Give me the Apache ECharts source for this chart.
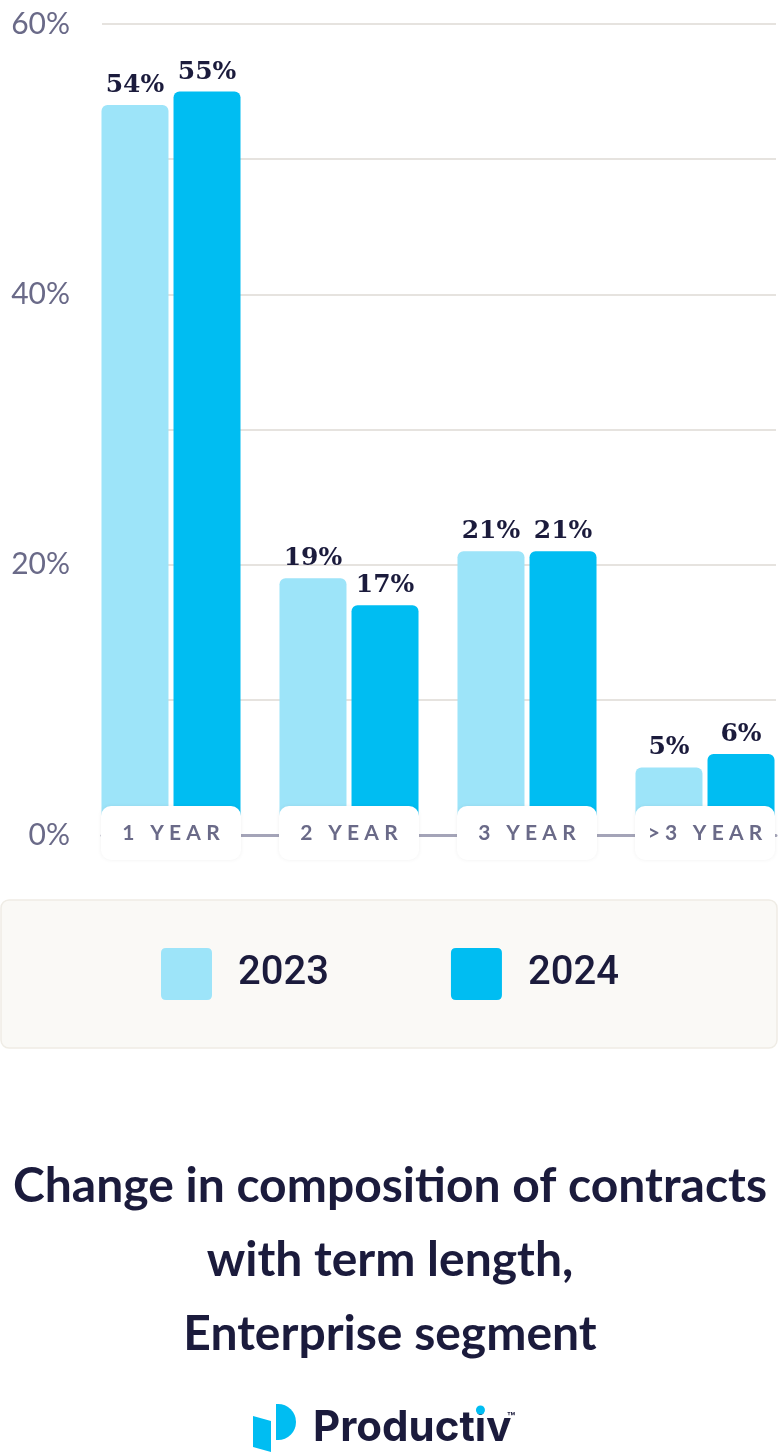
<!DOCTYPE html>
<html>
<head>
<meta charset="utf-8">
<script src="https://cdn.jsdelivr.net/npm/echarts@6/dist/echarts.min.js"></script>
<style>
html,body{margin:0;padding:0;background:#fff;}
#c{width:780px;height:1452px;}
</style>
</head>
<body>
<div id="c"></div>
<script>
const categories = ['1 YEAR', '2 YEAR', '3 YEAR', '>3 YEAR'];
const seriesNames = ['2023', '2024'];
const values2023 = [54, 19, 21, 5];
const values2024 = [55, 17, 21, 6];
const yTicks = [0, 20, 40, 60];
const titleLines = ['Change in composition of contracts', 'with term length,', 'Enterprise segment'];

const NAVY = '#1b1b3c';
const LIGHT = '#9de4f9';
const DARK = '#00bdf2';
const AXIS_GRAY = '#6a6a88';

const chart = echarts.init(document.getElementById('c'), null, {renderer: 'canvas'});

function spaced(s) { return s.split('').join('\u2005'); }

// position of the dot over the "i" in the logo word
const logoX = 313, logoFont = 'bold 42px Inter';
const mctx = document.createElement('canvas').getContext('2d');
mctx.font = logoFont;
const dotX = logoX + mctx.measureText('Product').width + mctx.measureText('i').width / 2;

const valueLabel = {
  show: true, position: 'top', distance: 7,
  formatter: p => p.value + '%',
  fontFamily: 'DejaVu Serif', fontWeight: 'bold', fontSize: 25, color: NAVY
};

chart.setOption({
  backgroundColor: '#ffffff',
  animation: false,
  title: {
    text: titleLines.join('\n'),
    left: 'center', top: 1145,
    textStyle: {fontFamily: 'Lato', fontWeight: 'bold', fontSize: 48, lineHeight: 74, color: NAVY, align: 'center'}
  },
  legend: {
    data: seriesNames,
    left: 161, top: 948, padding: 0,
    itemWidth: 51, itemHeight: 52, itemGap: 122,
    icon: 'path://M5,0 H46 Q51,0 51,5 V47 Q51,52 46,52 H5 Q0,52 0,47 V5 Q0,0 5,0 Z',
    textStyle: {fontFamily: 'Roboto', fontWeight: 500, fontSize: 40, color: NAVY, padding: [8, 0, 0, 21]}
  },
  grid: [
    {left: 82, width: 712, top: 24, height: 811, outerBoundsMode: 'none', containLabel: false},
    {left: 102, width: 674, top: 24, height: 811, outerBoundsMode: 'none', containLabel: false}
  ],
  xAxis: [
    {
      type: 'category', data: categories, gridIndex: 0, z: 5,
      axisTick: {show: false},
      axisLine: {show: false},
      axisLabel: {
        formatter: v => spaced(v),
        margin: -2, verticalAlign: 'middle',
        fontFamily: 'Lato', fontWeight: 'bold', fontSize: 21, color: AXIS_GRAY,
        backgroundColor: '#ffffff', width: 140, height: 49, lineHeight: 49,
        padding: [5, 0, 0, 0],
        borderRadius: 10, align: 'center',
        shadowColor: 'rgba(0,0,0,0.06)', shadowBlur: 4
      }
    },
    {type: 'category', data: categories, gridIndex: 1, z: 4,
     axisTick: {show: false}, axisLabel: {show: false},
     axisLine: {show: true, lineStyle: {color: '#a4a4b8', width: 3}}}
  ],
  yAxis: [
    {
      type: 'value', gridIndex: 0, min: 0, max: 60, interval: 20,
      splitLine: {show: false}, axisLine: {show: false}, axisTick: {show: false},
      axisLabel: {formatter: '{value}%', margin: 12, fontFamily: 'Lato', fontWeight: 'normal', fontSize: 30, color: AXIS_GRAY}
    },
    {
      type: 'value', gridIndex: 1, min: 0, max: 60, interval: 10,
      axisLabel: {show: false}, axisLine: {show: false}, axisTick: {show: false},
      splitLine: {show: true, lineStyle: {color: '#dedad5', width: 1.5}}
    }
  ],
  graphic: [
    {type: 'rect', z: -10, shape: {x: 1, y: 900, width: 776, height: 148, r: 8},
     style: {fill: '#faf9f6', stroke: '#efece5', lineWidth: 1.5}},
    {type: 'polygon', shape: {points: [[253, 1416], [271, 1421], [271, 1452], [253, 1447]]}, style: {fill: DARK}},
    {type: 'sector', shape: {cx: 278, cy: 1422, r0: 0, r: 18, startAngle: -Math.PI / 2, endAngle: Math.PI / 2}, style: {fill: DARK}},
    {type: 'rect', shape: {x: 276, y: 1404, width: 3, height: 36}, style: {fill: DARK}},
    {type: 'text', x: logoX, y: 1428, style: {text: 'Productiv', font: logoFont, fill: NAVY, verticalAlign: 'middle', align: 'left'}},
    {type: 'circle', z: 10, shape: {cx: dotX, cy: 1410, r: 4.5}, style: {fill: DARK}},
    {type: 'text', x: 507, y: 1418, style: {text: '™', fontFamily: 'Inter', fontWeight: 'bold', fontSize: 13, fill: NAVY, verticalAlign: 'middle', align: 'left'}}
  ],
  series: [
    {name: seriesNames[0], type: 'bar', data: values2023, barWidth: 67, barGap: '7.5%',
     itemStyle: {color: LIGHT, borderRadius: [6, 6, 0, 0]}, label: valueLabel},
    {name: seriesNames[1], type: 'bar', data: values2024, barWidth: 67, barGap: '7.5%',
     itemStyle: {color: DARK, borderRadius: [6, 6, 0, 0]}, label: valueLabel}
  ]
});
</script>
</body>
</html>
